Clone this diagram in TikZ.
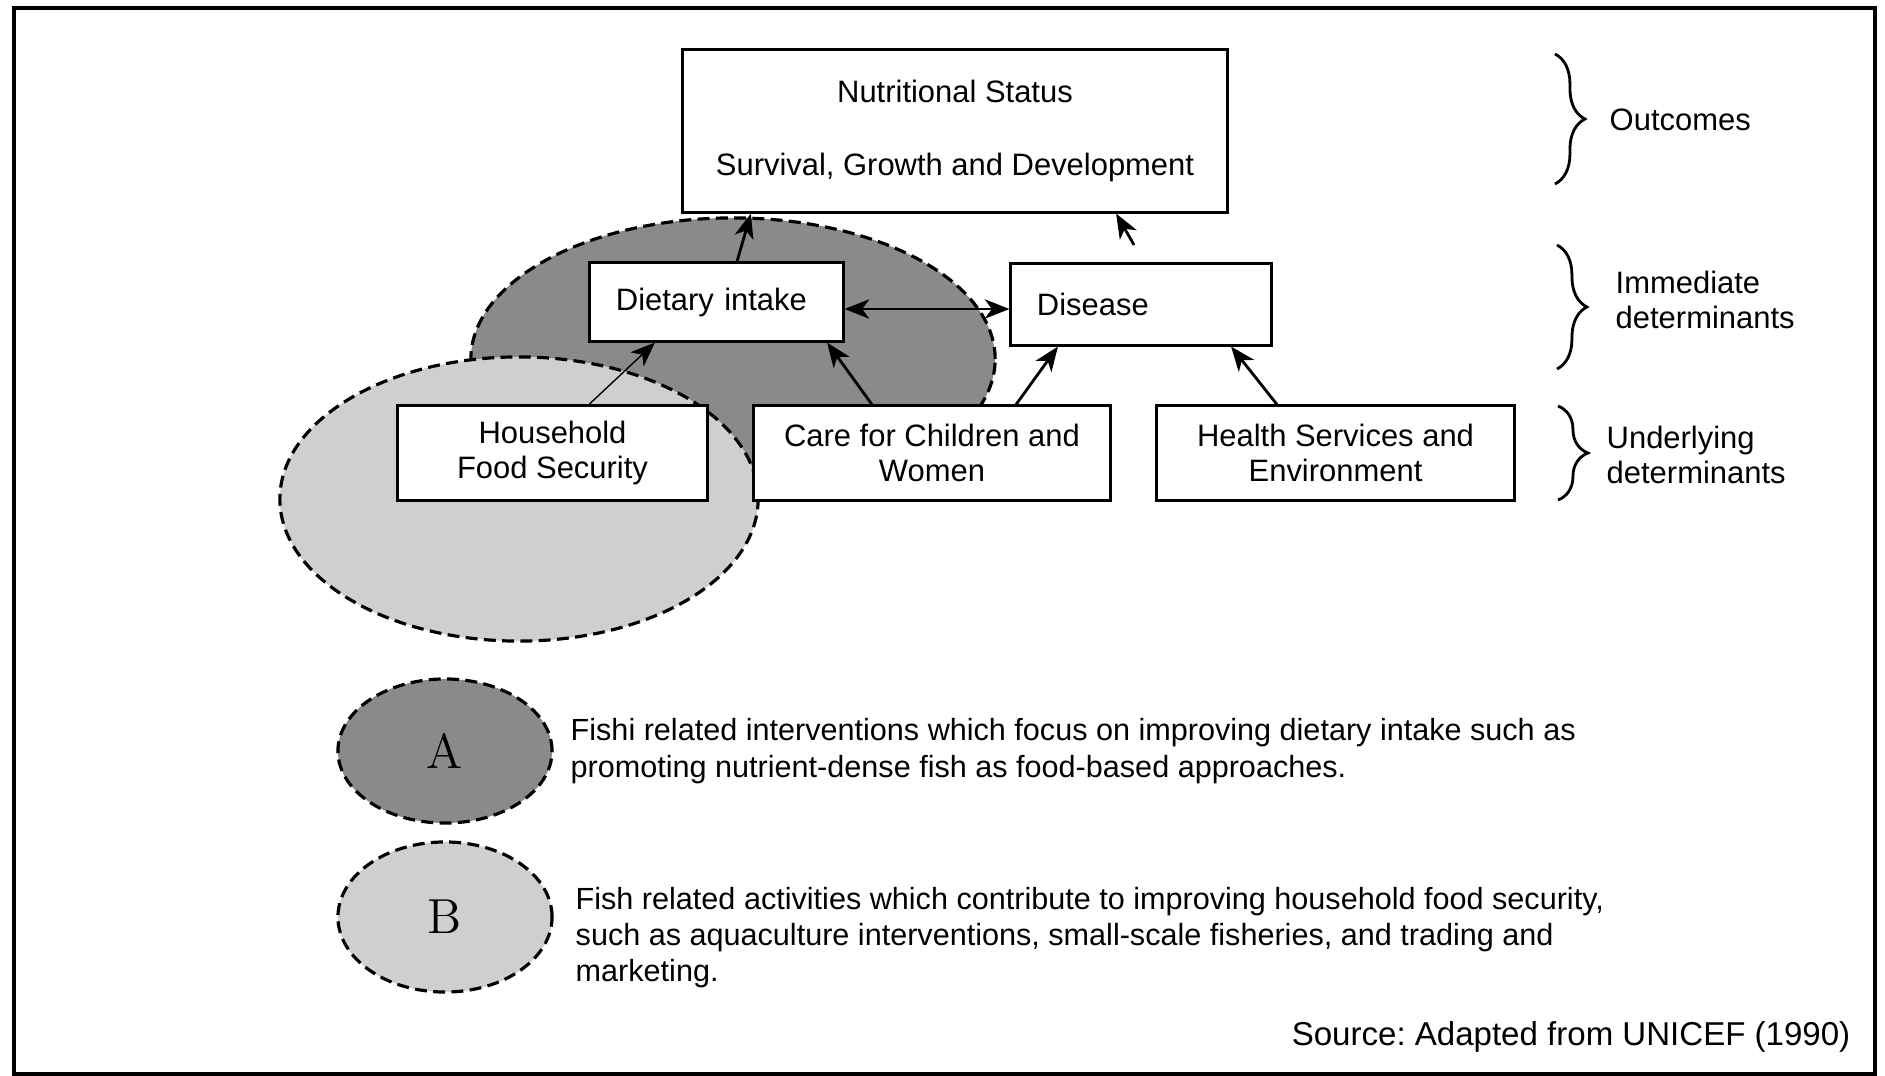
\documentclass[tikz,border=0pt]{standalone}
\usepackage{fontspec}
\newfontfamily\arial{Liberation Sans}
\usetikzlibrary{arrows.meta,shapes.geometric,decorations.pathreplacing}
\definecolor{zoneAcol}{RGB}{138,138,138}
\definecolor{zoneBcol}{RGB}{207,207,207}
\frenchspacing
\begin{document}
\begin{tikzpicture}[x=0.01cm,y=-0.01cm,
  boxnode/.style={draw, line width=0.85pt, fill=white, inner sep=0pt, align=center,
    font=\arial\fontsize{8.8}{10}\selectfont},
  zone/.style={ellipse, draw, dash pattern=on 3.4pt off 1.8pt, line width=0.9pt, inner sep=0pt},
  tipstyle/.style={},
  arr/.style={-{Stealth[length=7pt,width=5.5pt,inset=2pt]}, line width=0.8pt},
  dblarr/.style={{Stealth[length=7pt,width=5.5pt,inset=2pt]}-{Stealth[length=7pt,width=5.5pt,inset=2pt]}, line width=0.8pt},
  lbl/.style={font=\arial\fontsize{8.8}{10}\selectfont, align=left, anchor=west, inner sep=0pt},
  bracestyle/.style={decorate, decoration={brace, amplitude=8.5pt}, line width=0.8pt}]
\useasboundingbox (0,0) rectangle (1885,1076);
\draw[line width=1.3pt] (14,8) rectangle (1875,1074);

% zones
\node[zone, fill=zoneAcol, minimum width=5.24cm, minimum height=2.82cm] (za) at (733,359) {};
\node[zone, fill=zoneBcol, minimum width=4.78cm, minimum height=2.84cm] (zb) at (519,499) {};

% boxes
\node[boxnode, minimum width=5.44cm, minimum height=1.62cm,
  font=\arial\fontsize{8.8}{20.5}\selectfont] (nut) at (955,131)
  {Nutritional Status\\Survival, Growth and Development};
\node[boxnode, minimum height=0.78cm, text width=2.01cm, align=left, inner xsep=0.26cm]
  (diet) at (716.5,302) {Dietary intake};
\node[boxnode, minimum height=0.81cm, text width=2.08cm, align=left, inner xsep=0.26cm]
  (dis) at (1141,304.5) {Disease};
\node[boxnode, minimum width=3.09cm, minimum height=0.94cm] (hh) at (552.5,453)
  {Household\\Food Security};
\node[boxnode, minimum width=3.56cm, minimum height=0.94cm] (care) at (932,453)
  {Care for Children and\\Women};
\node[boxnode, minimum width=3.57cm, minimum height=0.94cm] (hs) at (1335.5,453)
  {Health Services and\\Environment};

% connectors
\draw[arr] ([xshift=0.205cm]diet.north) -- ([xshift=-2.04cm]nut.south);
\coordinate (dtail) at (1134,245);
\draw[arr] (dtail) -- ([xshift=1.61cm]nut.south);
\draw[dblarr] ([yshift=-0.07cm]diet.east) -- ([yshift=-0.07cm]diet.east -| dis.west);
\draw[arr, line width=0.4pt] ([xshift=0.365cm]hh.north) -- ([xshift=-0.615cm]diet.south);
\draw[arr] ([xshift=-0.60cm]care.north) -- ([xshift=1.105cm]diet.south);
\draw[arr] ([xshift=0.84cm]care.north) -- ([xshift=-0.83cm]dis.south);
\draw[arr] ([xshift=-0.585cm]hs.north) -- ([xshift=0.90cm]dis.south);

% braces
\coordinate (o1) at (1555,54);  \coordinate (o2) at (1555,184);
\coordinate (i1) at (1557,245); \coordinate (i2) at (1557,369);
\coordinate (u1) at (1558,406); \coordinate (u2) at (1558,500);
\draw[bracestyle] (o1) -- (o2);
\draw[bracestyle] (i1) -- (i2);
\draw[bracestyle] (u1) -- (u2);
\node[lbl] (lo) at (1609,120) {Outcomes};
\node[lbl] (li) at (1615,300) {Immediate\\determinants};
\node[lbl] (lu) at (1606,455) {Underlying\\determinants};

% legend
\node[zone, fill=zoneAcol, minimum width=2.14cm, minimum height=1.44cm,
  font=\fontsize{14}{14}\selectfont] (la) at (445,751) {A};
\node[zone, fill=zoneBcol, minimum width=2.14cm, minimum height=1.50cm,
  font=\fontsize{14}{14}\selectfont] (lb) at (445,917) {B};
\node[lbl, font=\arial\fontsize{8.7}{10.3}\selectfont] (ta) at (570,751)
  {Fishi related interventions which focus on improving dietary intake such as\\
   promoting nutrient-dense fish as food-based approaches.};
\node[lbl, font=\arial\fontsize{8.7}{10.3}\selectfont] (tb) at (575,937.5)
  {Fish related activities which contribute to improving household food security,\\
   such as aquaculture interventions, small-scale fisheries, and trading and\\
   marketing.};
\node[anchor=east, inner sep=0pt, font=\arial\fontsize{9.4}{11}\selectfont] (src) at (1851,1037)
  {Source: Adapted from UNICEF (1990)};
\end{tikzpicture}
\end{document}
